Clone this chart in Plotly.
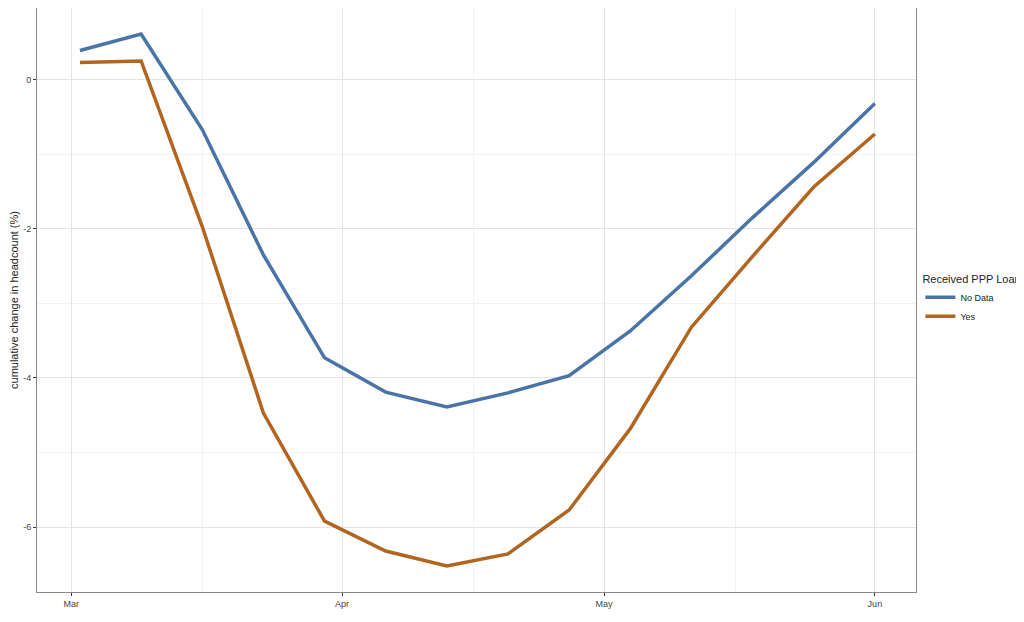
import plotly.graph_objects as go

dates = ["2020-03-02","2020-03-09","2020-03-16","2020-03-23","2020-03-30","2020-04-06","2020-04-13",
         "2020-04-20","2020-04-27","2020-05-04","2020-05-11","2020-05-18","2020-05-25","2020-06-01"]
no_data = [0.39,0.61,-0.67,-2.35,-3.73,-4.19,-4.39,-4.20,-3.97,-3.37,-2.63,-1.85,-1.11,-0.32]
yes = [0.23,0.25,-1.97,-4.47,-5.92,-6.32,-6.52,-6.36,-5.77,-4.68,-3.32,-2.37,-1.44,-0.73]

fig = go.Figure()
fig.add_trace(go.Scatter(x=dates, y=no_data, mode="lines", name="No Data",
                         line=dict(color="#4a74a8", width=3.5)))
fig.add_trace(go.Scatter(x=dates, y=yes, mode="lines", name="Yes",
                         line=dict(color="#b1651f", width=3.5)))
fig.update_layout(
    width=1016, height=614, paper_bgcolor="white", plot_bgcolor="white",
    margin=dict(l=29, r=108, t=0, b=30, autoexpand=False),
    font=dict(family="Liberation Sans", size=9, color="#444"),
    legend=dict(title=dict(text="Received PPP Loan", font=dict(size=11, color="#222")),
                x=1.005, y=0.5, yanchor="middle", font=dict(size=9, color="#222")),
    xaxis=dict(range=["2020-02-26 02:00", "2020-06-05 17:00"], tickvals=["2020-03-01","2020-04-01","2020-05-01","2020-06-01"],
               ticktext=["Mar","Apr","May","Jun"], showgrid=True, gridcolor="#e5e5e5",
               minor=dict(tickvals=["2020-03-16","2020-04-16","2020-05-16"], showgrid=True, gridcolor="#f2f2f2"),
               ticks="outside", ticklen=3, tickcolor="#333", showline=True, linecolor="#888", mirror=True, zeroline=False),
    yaxis=dict(range=[-6.87, 0.96], tickvals=[0,-2,-4,-6], ticktext=["0","-2","-4","-6"], automargin=False,
               showgrid=True, gridcolor="#e5e5e5",
               minor=dict(tickvals=[-1,-3,-5], showgrid=True, gridcolor="#f2f2f2"),
               ticks="outside", ticklen=3, tickcolor="#333", showline=True, linecolor="#888", mirror=True, zeroline=False,
               title=dict(text="cumulative change in headcount (%)", font=dict(size=11, color="#222"), standoff=4)),
)
fig.write_html("out.html")
